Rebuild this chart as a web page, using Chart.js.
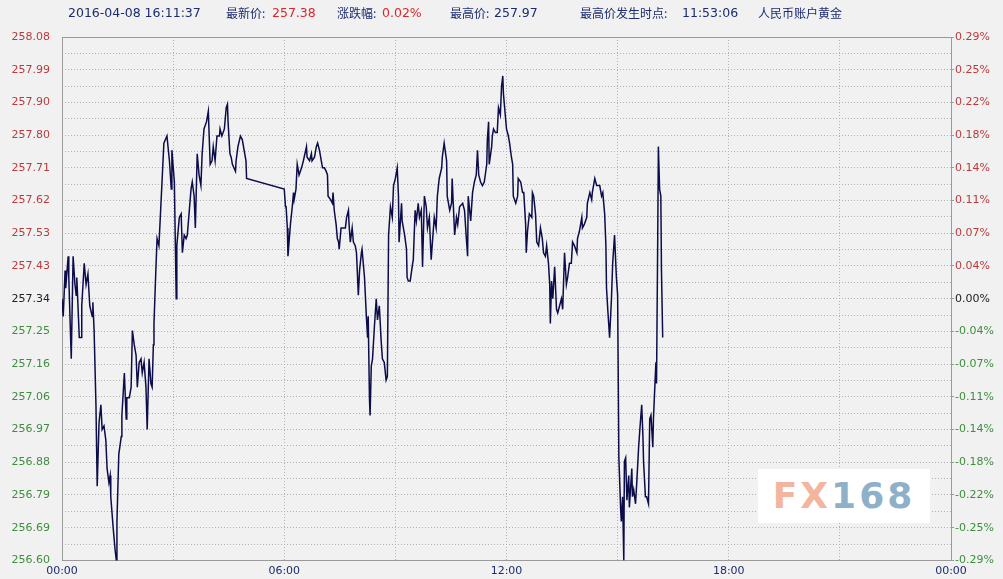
<!DOCTYPE html>
<html>
<head>
<meta charset="utf-8">
<script src="https://cdn.jsdelivr.net/npm/chart.js@4/dist/chart.umd.min.js"></script>
<style>
  html, body { margin: 0; padding: 0; background: #f1f1f1; }
  #wrap { position: relative; width: 1003px; height: 579px; overflow: hidden; }
  #c { position: absolute; left: 0; top: 0; }
  .hd { position: absolute; top: 5px; font: 12.5px "DejaVu Sans", "Noto Sans CJK SC", sans-serif; color: #1c2c6e; white-space: nowrap; line-height: 16px; }
  .hd.cn { font-size: 12px; font-family: "Noto Sans CJK SC", sans-serif; }
  .red { color: #d8282c; }
  #logo { position: absolute; left: 758px; top: 469px; width: 172px; height: 54px; background: #fff; text-align: center;
          font: bold 36px "DejaVu Sans", sans-serif; line-height: 54px; letter-spacing: 3px; }
  #logo .fx { color: #f3b59d; }
  #logo .num { color: #8fb0c9; }
</style>
</head>
<body>
<div id="wrap">
  <canvas id="c" width="1003" height="579"></canvas>
  <span class="hd" style="left:68px">2016-04-08 16:11:37</span>
  <span class="hd cn" style="left:226px">最新价:</span>
  <span class="hd red" style="left:272px">257.38</span>
  <span class="hd cn" style="left:337px">涨跌幅:</span>
  <span class="hd red" style="left:382px">0.02%</span>
  <span class="hd cn" style="left:450px">最高价:</span>
  <span class="hd" style="left:494px">257.97</span>
  <span class="hd cn" style="left:580px">最高价发生时点:</span>
  <span class="hd" style="left:682px">11:53:06</span>
  <span class="hd cn" style="left:758px">人民币账户黄金</span>
  <div id="logo"><span class="fx">FX</span><span class="num">168</span></div>
</div>
<script>
// minutes after 00:00 and price (CNY/g)
const minutes = [
  0,2,5,6,10,11,15,18,21,23,
  24,28,31,32,36,39,42,45,49,50,
  52,55,57,60,63,65,68,71,73,76,
  78,79,83,86,88,89,92,96,97,101,
  104,105,109,112,114,117,120,122,125,128,
  130,133,136,138,141,144,146,148,149,152,
  154,157,162,165,170,174,177,178,182,185,
  186,190,193,195,198,201,203,209,211,214,
  216,219,222,225,227,230,234,237,240,243,
  245,248,251,255,256,259,263,266,268,269,
  272,274,276,281,282,285,289,292,295,298,
  299,360,362,363,365,366,370,373,375,376,
  379,381,384,388,391,396,397,401,404,405,
  409,412,414,417,420,422,425,428,430,431,
  435,438,439,441,444,446,448,449,452,459,
  461,464,465,467,470,472,475,477,480,482,
  485,486,490,493,495,496,498,499,501,503,
  506,509,511,514,517,519,522,525,527,529,
  532,535,537,540,543,545,546,550,551,555,
  558,559,561,564,568,569,572,574,577,579,
  582,584,587,590,592,595,598,600,603,606,
  608,611,615,616,619,623,624,628,631,632,
  636,639,641,644,649,652,655,657,658,662,
  665,668,671,673,675,678,681,684,688,689,
  691,692,696,697,699,702,705,707,710,712,
  714,715,718,720,723,725,728,730,731,735,
  738,739,743,746,748,751,752,754,757,761,
  762,764,767,769,772,775,778,780,783,785,
  788,790,791,793,795,798,801,803,806,809,
  811,814,817,819,822,825,827,830,834,835,
  838,842,843,846,850,851,855,858,859,863,
  866,868,871,874,876,879,881,882,884,887,
  890,892,895,898,900,902,905,906,908,910,
  911,913,915,918,919,923,924,926,929,931,
  934,936,939,941,942,945,947,950,952,954,
  957,958,962,963,965,966,968,970,971,973
];
const prices = [
  257.34,257.29,257.42,257.37,257.46,257.40,257.17,257.46,257.38,257.35,
  257.40,257.23,257.23,257.32,257.44,257.38,257.41,257.32,257.29,257.33,
  257.25,257.04,256.81,256.99,257.04,256.97,256.98,256.94,256.86,256.82,
  256.84,256.78,256.69,256.63,256.60,256.71,256.90,256.95,257.01,257.13,
  257.00,257.06,257.06,257.09,257.25,257.21,257.18,257.09,257.16,257.17,
  257.13,257.16,257.09,256.97,257.17,257.10,257.09,257.21,257.27,257.42,
  257.51,257.49,257.67,257.78,257.80,257.73,257.65,257.76,257.67,257.34,
  257.49,257.57,257.58,257.47,257.52,257.51,257.52,257.65,257.67,257.63,
  257.54,257.75,257.69,257.66,257.75,257.82,257.84,257.87,257.72,257.73,
  257.77,257.73,257.80,257.80,257.82,257.80,257.82,257.88,257.89,257.84,
  257.75,257.74,257.72,257.70,257.73,257.77,257.80,257.79,257.76,257.73,
  257.68,257.65,257.60,257.60,257.54,257.46,257.55,257.60,257.64,257.62,
  257.65,257.72,257.69,257.71,257.73,257.77,257.74,257.73,257.75,257.73,
  257.74,257.77,257.78,257.76,257.73,257.71,257.71,257.70,257.69,257.63,
  257.62,257.61,257.64,257.59,257.55,257.51,257.50,257.48,257.54,257.54,
  257.57,257.59,257.55,257.50,257.54,257.50,257.49,257.47,257.35,257.42,
  257.47,257.48,257.40,257.29,257.23,257.29,257.06,257.01,257.15,257.17,
  257.26,257.34,257.28,257.32,257.22,257.17,257.16,257.11,257.12,257.52,
  257.60,257.57,257.66,257.68,257.71,257.63,257.50,257.61,257.56,257.52,
  257.48,257.40,257.39,257.39,257.44,257.45,257.59,257.56,257.61,257.57,
  257.59,257.43,257.63,257.60,257.54,257.57,257.45,257.50,257.57,257.54,
  257.63,257.68,257.71,257.74,257.78,257.73,257.63,257.59,257.61,257.68,
  257.52,257.57,257.55,257.60,257.61,257.59,257.51,257.46,257.63,257.56,
  257.64,257.67,257.69,257.76,257.69,257.67,257.66,257.67,257.72,257.79,
  257.84,257.72,257.77,257.80,257.82,257.81,257.81,257.88,257.86,257.94,
  257.97,257.92,257.86,257.82,257.80,257.78,257.74,257.72,257.63,257.61,
  257.63,257.68,257.67,257.64,257.64,257.55,257.47,257.53,257.58,257.57,
  257.64,257.63,257.58,257.50,257.49,257.54,257.51,257.47,257.46,257.49,
  257.44,257.38,257.27,257.39,257.34,257.43,257.31,257.30,257.32,257.34,
  257.31,257.47,257.38,257.40,257.44,257.44,257.50,257.49,257.47,257.51,
  257.53,257.57,257.54,257.55,257.57,257.61,257.64,257.62,257.64,257.68,
  257.66,257.66,257.66,257.63,257.64,257.58,257.49,257.37,257.31,257.23,
  257.34,257.44,257.52,257.40,257.35,256.89,256.74,256.71,256.78,256.60,
  256.88,256.89,256.77,256.84,256.75,256.86,256.78,256.80,256.76,256.82,
  256.92,256.97,257.04,256.95,256.88,256.78,256.78,256.76,257.00,257.01,
  256.92,257.00,257.16,257.10,257.52,257.77,257.65,257.63,257.42,257.23
];

// axis labels, top to bottom
const priceLabels = ['258.08','257.99','257.90','257.80','257.71','257.62','257.53','257.43','257.34',
  '257.25','257.16','257.06','256.97','256.88','256.79','256.69','256.60'];
const pctLabels = ['0.29%','0.25%','0.22%','0.18%','0.14%','0.11%','0.07%','0.04%','0.00%',
  '-0.04%','-0.07%','-0.11%','-0.14%','-0.18%','-0.22%','-0.25%','-0.29%'];
const timeLabels = ['00:00','06:00','12:00','18:00','00:00'];

const yMin = 256.60, yMax = 258.08;
const mid = 16; // index of the 257.34 / 0.00% tick (counting from bottom, half steps)

function halfTicks(scale) {
  const ticks = [];
  for (let i = 0; i <= 32; i++) ticks.push({ value: yMin + (yMax - yMin) * i / 32 });
  scale.ticks = ticks;
}
function labelColor(ctx) {
  if (ctx.index === mid) return '#222222';
  return ctx.index > mid ? '#b83c3c' : '#3f8d3f';
}

const frame = {
  id: 'frame',
  beforeDatasetsDraw(chart) {
    const a = chart.chartArea, ctx = chart.ctx;
    ctx.save();
    ctx.strokeStyle = '#9a9a9a';
    ctx.lineWidth = 1;
    ctx.strokeRect(Math.round(a.left) + 0.5, Math.round(a.top) + 0.5,
      Math.round(a.right - a.left), Math.round(a.bottom - a.top));
    ctx.restore();
  }
};

const axisFont = { family: '"DejaVu Sans", sans-serif', size: 11 };

new Chart(document.getElementById('c'), {
  type: 'line',
  data: {
    datasets: [{
      data: minutes.map((m, i) => ({ x: m, y: prices[i] })),
      borderColor: '#0c0c4a',
      borderWidth: 1.5,
      pointRadius: 0,
      tension: 0,
      fill: false
    }]
  },
  options: {
    responsive: false,
    animation: false,
    devicePixelRatio: 1,
    layout: { padding: { top: 37, left: 0, right: 0, bottom: 0 } },
    plugins: { legend: { display: false }, tooltip: { enabled: false } },
    scales: {
      x: {
        type: 'linear',
        min: 0, max: 1440,
        afterBuildTicks: s => { s.ticks = [0,180,360,540,720,900,1080,1260,1440].map(v => ({ value: v })); },
        afterFit: s => { s.height = 17; },
        grid: { color: '#b2b2b2', drawTicks: false },
        border: { display: false, dash: [1, 2] },
        ticks: {
          autoSkip: false, maxRotation: 0, padding: 4,
          color: '#1c2c6e', font: axisFont,
          callback: (v, i) => (i % 2 === 0 ? timeLabels[i / 2] : '')
        }
      },
      y: {
        position: 'left',
        min: yMin, max: yMax,
        afterBuildTicks: halfTicks,
        afterFit: s => { s.width = 62; },
        grid: { color: '#b2b2b2', drawTicks: false },
        border: { display: false, dash: [1, 2] },
        ticks: {
          autoSkip: false, padding: 12, font: axisFont, color: labelColor,
          callback: (v, i) => (i % 2 === 0 ? priceLabels[16 - i / 2] : '')
        }
      },
      y2: {
        position: 'right',
        min: yMin, max: yMax,
        afterBuildTicks: halfTicks,
        afterFit: s => { s.width = 52; },
        grid: {
          drawOnChartArea: false, drawTicks: true, tickLength: 3,
          color: ctx => (ctx.index % 2 === 0 ? '#9a9a9a' : 'rgba(0,0,0,0)')
        },
        border: { display: false },
        ticks: {
          autoSkip: false, padding: 1, font: axisFont, color: labelColor,
          callback: (v, i) => (i % 2 === 0 ? pctLabels[16 - i / 2] : '')
        }
      }
    }
  },
  plugins: [frame]
});
</script>
</body>
</html>
